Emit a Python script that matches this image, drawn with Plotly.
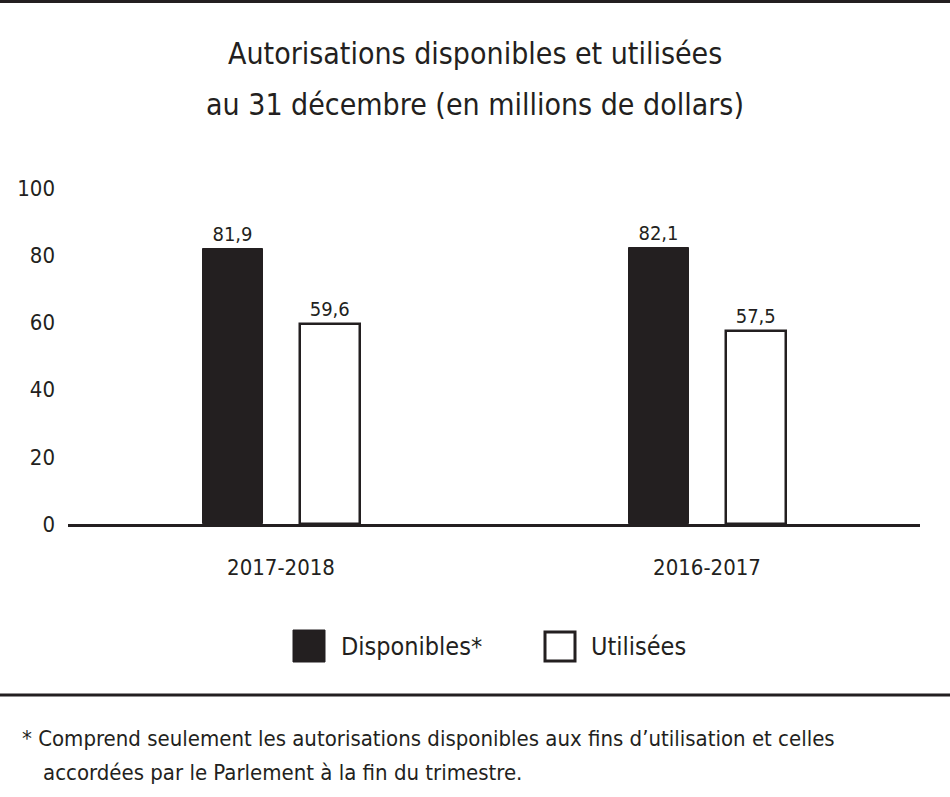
import plotly.graph_objects as go

categories = ["2017-2018", "2016-2017"]
disponibles = [81.9, 82.1]
utilisees = [59.6, 57.5]
y_ticks = [0, 20, 40, 60, 80, 100]

FONT = "Liberation Sans Narrow, DejaVu Sans Condensed, Roboto Condensed, Arial Narrow, Roboto, sans-serif"
DARK = "#231f20"

fig = go.Figure()
fig.add_trace(go.Bar(
    x=categories, y=disponibles, name="Disponibles*",
    marker=dict(color=DARK, line=dict(color=DARK, width=1)),
    width=0.14, offset=-0.183,
    texttemplate="%{y:.1f}", textposition="outside",
    textfont=dict(family=FONT, size=20, color=DARK),
    cliponaxis=False, showlegend=False,
))
fig.add_trace(go.Bar(
    x=categories, y=utilisees, name="Utilisées",
    marker=dict(color="white", line=dict(color=DARK, width=2.5)),
    width=0.14, offset=0.045,
    texttemplate="%{y:.1f}", textposition="outside",
    textfont=dict(family=FONT, size=20, color=DARK),
    cliponaxis=False, showlegend=False,
))

W, H = 950, 797
left, right = 68, 920
top, bottom = 188, 524

fig.update_layout(
    width=W, height=H,
    margin=dict(l=left, r=W - right, t=top, b=H - bottom),
    paper_bgcolor="white", plot_bgcolor="white",
    separators=", ",
    font=dict(family=FONT, color=DARK),
    showlegend=False,
    bargap=0, bargroupgap=0,
    xaxis=dict(
        showline=True, linecolor=DARK, linewidth=3,
        showgrid=False, zeroline=False, ticks="",
        tickfont=dict(family=FONT, size=22, color=DARK),
        ticklabelstandoff=22,
    ),
    yaxis=dict(
        range=[0, 100], tickvals=y_ticks,
        showgrid=False, zeroline=False, showline=False, ticks="",
        tickfont=dict(family=FONT, size=22, color=DARK),
        ticklabelstandoff=12,
    ),
)

def px_x(x):
    return (x - left) / (right - left)

def px_y(y):
    return (bottom - y) / (bottom - top)

# Title (two lines)
for txt, yy in [("Autorisations disponibles et utilisées", 53),
                ("au 31 décembre (en millions de dollars)", 104)]:
    fig.add_annotation(
        x=px_x(475), y=px_y(yy), xref="paper", yref="paper",
        text=txt, showarrow=False, xanchor="center", yanchor="middle",
        font=dict(family=FONT, size=30, color=DARK),
    )

# Top border and separator line
fig.add_shape(type="rect", xref="paper", yref="paper",
              x0=px_x(-2), x1=px_x(952), y0=px_y(3), y1=px_y(-2),
              fillcolor=DARK, line=dict(width=0), layer="above")
fig.add_shape(type="line", xref="paper", yref="paper",
              x0=px_x(0), x1=px_x(950), y0=px_y(695), y1=px_y(695),
              line=dict(color=DARK, width=3))

# Custom legend
fig.add_shape(type="rect", xref="paper", yref="paper",
              x0=px_x(293), x1=px_x(325), y0=px_y(662), y1=px_y(630),
              fillcolor=DARK, line=dict(color=DARK, width=1))
fig.add_annotation(x=px_x(339), y=px_y(646), xref="paper", yref="paper",
                   text="Disponibles*", showarrow=False, xanchor="left", yanchor="middle",
                   font=dict(family=FONT, size=25, color=DARK))
fig.add_shape(type="rect", xref="paper", yref="paper",
              x0=px_x(545), x1=px_x(575), y0=px_y(661), y1=px_y(632),
              fillcolor="white", line=dict(color=DARK, width=3))
fig.add_annotation(x=px_x(589), y=px_y(646), xref="paper", yref="paper",
                   text="Utilisées", showarrow=False, xanchor="left", yanchor="middle",
                   font=dict(family=FONT, size=25, color=DARK))

# Footnote (two lines)
fig.add_annotation(
    x=px_x(20), y=px_y(738), xref="paper", yref="paper",
    text="* Comprend seulement les autorisations disponibles aux fins d’utilisation et celles",
    showarrow=False, xanchor="left", yanchor="middle", align="left",
    font=dict(family=FONT, size=22, color=DARK),
)
fig.add_annotation(
    x=px_x(41), y=px_y(772), xref="paper", yref="paper",
    text="accordées par le Parlement à la fin du trimestre.",
    showarrow=False, xanchor="left", yanchor="middle", align="left",
    font=dict(family=FONT, size=22, color=DARK),
)

fig.write_html("out.html")
